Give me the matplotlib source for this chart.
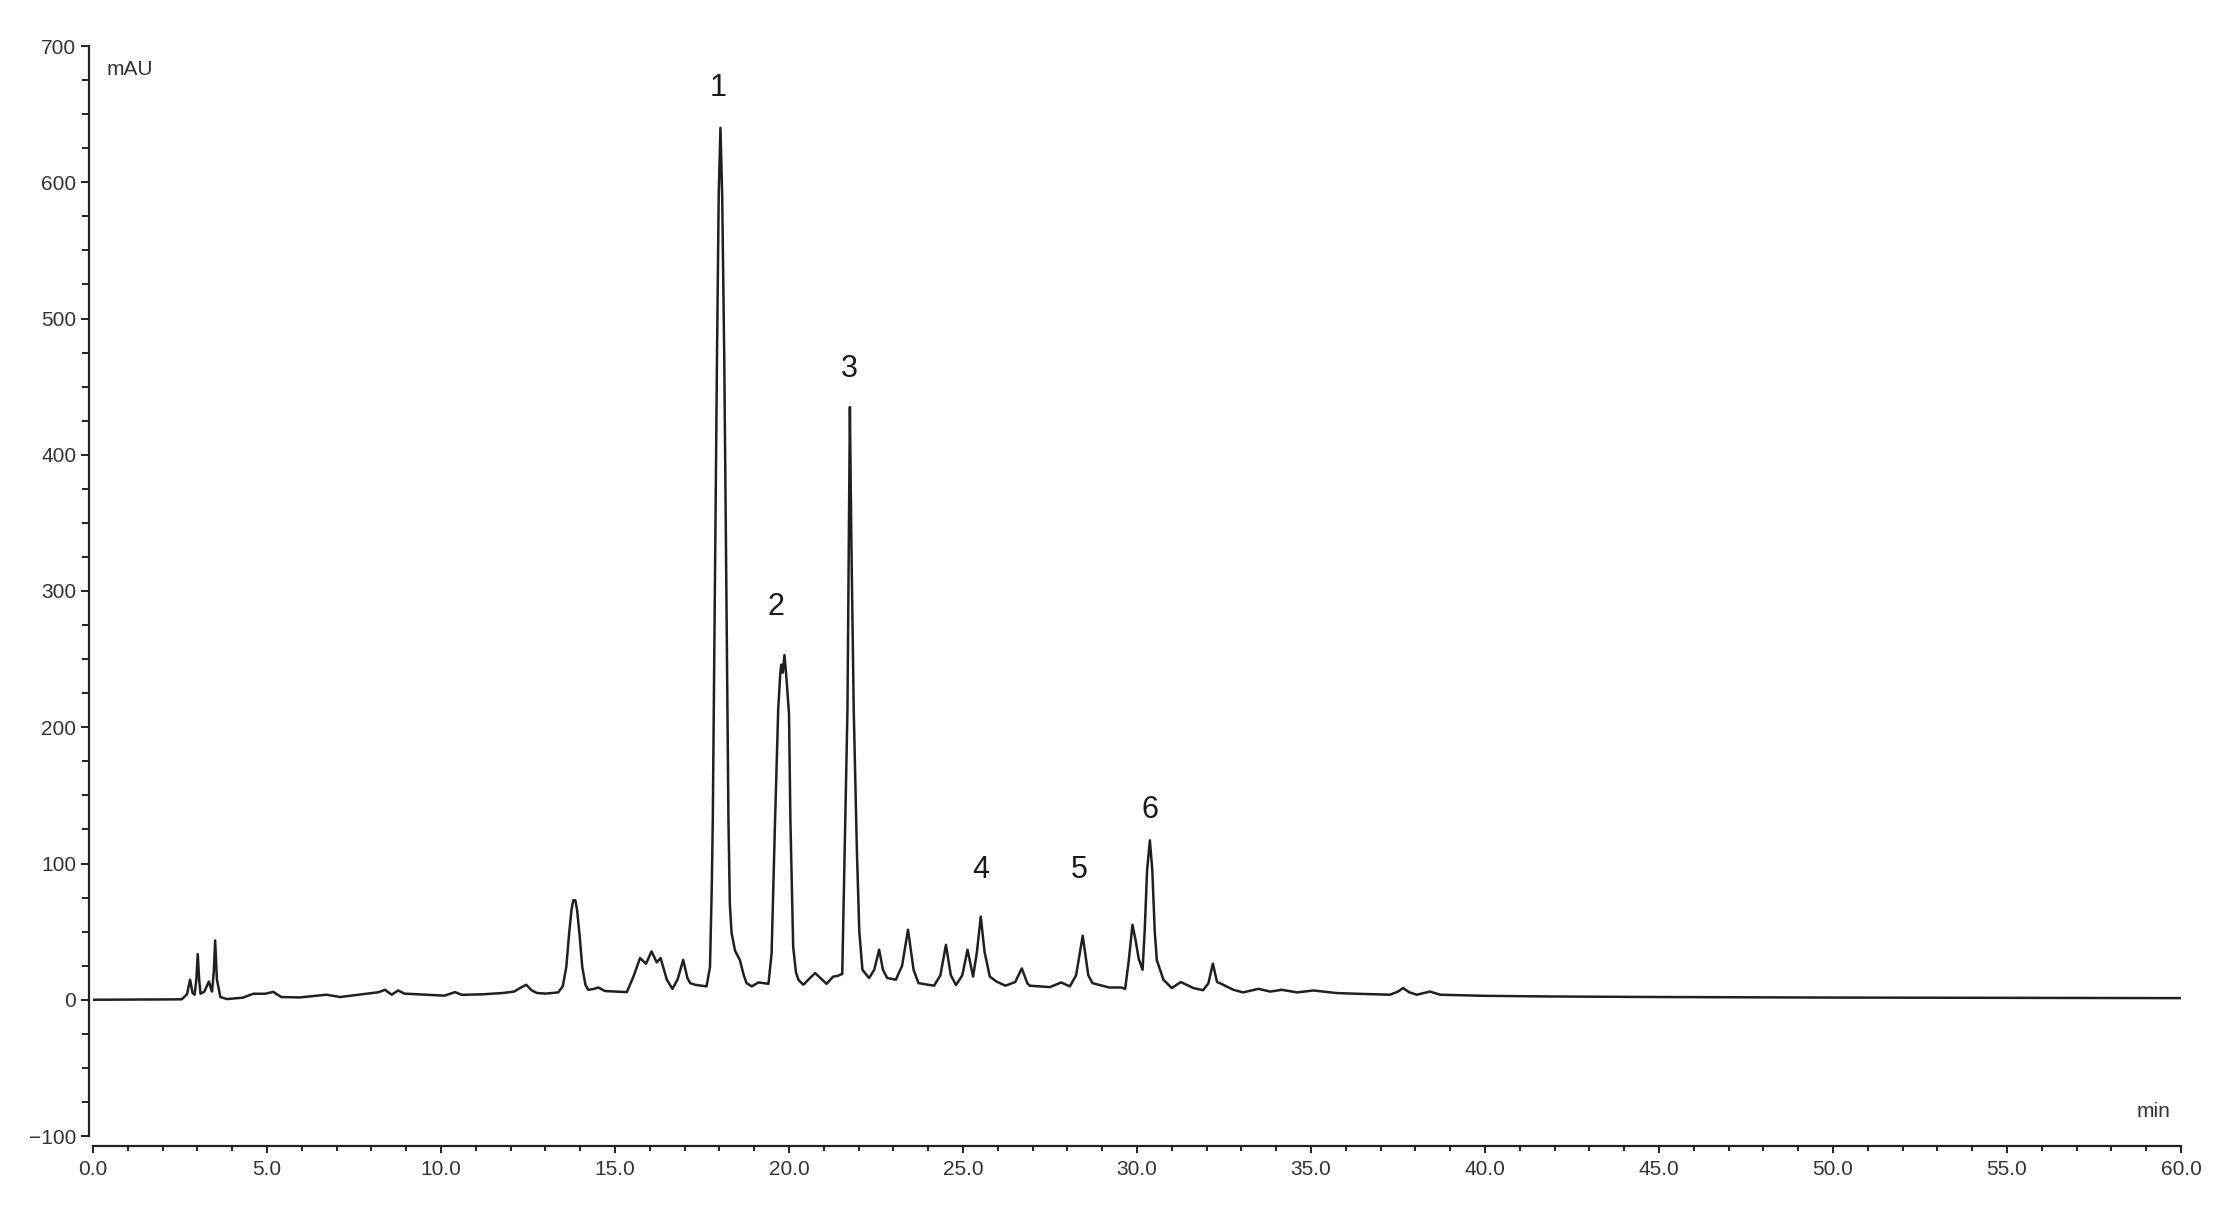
import numpy as np
import matplotlib
matplotlib.use("Agg")
import matplotlib.pyplot as plt
from matplotlib.ticker import MultipleLocator, FormatStrFormatter

plt.rcParams['font.family'] = ['Liberation Sans', 'DejaVu Sans']

# chromatogram trace (retention time in min, signal in mAU)
time_min = [
    0.00, 2.55, 2.70, 2.79, 2.86, 2.92, 2.97, 3.01, 3.05, 3.09, 3.20, 3.33, 3.38, 3.42,
    3.47, 3.51, 3.56, 3.66, 3.85, 4.30, 4.61, 4.95, 5.18, 5.41, 5.94, 6.71, 7.10, 7.86,
    8.20, 8.39, 8.58, 8.77, 8.95, 9.50, 10.10, 10.40, 10.60, 11.20, 11.80, 12.10, 12.30,
    12.45, 12.60, 12.75, 13.00, 13.37, 13.50, 13.60, 13.68, 13.75, 13.80, 13.86, 13.91,
    13.98, 14.06, 14.15, 14.23, 14.40, 14.52, 14.71, 15.34, 15.53, 15.72, 15.89, 16.05,
    16.20, 16.31, 16.49, 16.65, 16.80, 16.96, 17.08, 17.16, 17.30, 17.63, 17.73, 17.78,
    17.81, 17.87, 17.93, 17.98, 18.03, 18.08, 18.14, 18.20, 18.26, 18.30, 18.35, 18.45,
    18.59, 18.70, 18.78, 18.93, 19.12, 19.41, 19.50, 19.60, 19.69, 19.75, 19.78, 19.82,
    19.87, 19.93, 20.00, 20.04, 20.12, 20.20, 20.27, 20.41, 20.75, 21.08, 21.27, 21.40,
    21.53, 21.60, 21.68, 21.72, 21.75, 21.79, 21.86, 21.95, 22.02, 22.11, 22.30, 22.45,
    22.59, 22.70, 22.82, 23.07, 23.25, 23.42, 23.58, 23.72, 24.17, 24.35, 24.51, 24.65,
    24.80, 24.98, 25.13, 25.29, 25.40, 25.51, 25.62, 25.77, 25.96, 26.22, 26.50, 26.69,
    26.85, 26.92, 27.50, 27.82, 28.07, 28.25, 28.44, 28.60, 28.72, 29.20, 29.55, 29.66,
    29.76, 29.87, 29.95, 30.05, 30.16, 30.22, 30.29, 30.37, 30.44, 30.51, 30.57, 30.76,
    31.00, 31.26, 31.62, 31.90, 32.05, 32.18, 32.30, 32.38, 32.77, 33.05, 33.49, 33.83,
    34.16, 34.60, 35.07, 35.74, 36.31, 37.27, 37.50, 37.65, 37.82, 38.04, 38.42, 38.71,
    39.94, 41.87, 45.00, 50.00, 55.00, 60.00,
]
signal_mau = [
    0.0, 0.3, 4.0, 14.7, 5.0, 3.7, 15.0, 33.5, 15.0, 4.4, 6.0, 13.4, 9.0, 6.0,
    20.0, 43.5, 15.0, 2.0, 0.5, 1.5, 4.4, 4.4, 5.8, 2.0, 1.7, 3.7, 2.0, 4.4,
    5.5, 7.3, 3.7, 6.8, 4.5, 3.8, 3.0, 5.6, 3.6, 4.0, 5.0, 6.0, 9.0,
    11.0, 7.0, 5.0, 4.5, 5.4, 10.0, 24.0, 48.0, 66.0, 73.0, 73.0, 66.0,
    48.0, 24.0, 11.0, 7.3, 8.0, 9.0, 6.4, 5.6, 17.0, 30.6, 26.4, 35.5,
    27.4, 30.6, 14.7, 8.0, 15.0, 29.3, 16.0, 12.2, 11.0, 9.8, 24.0, 82.0,
    132.0, 300.0, 470.0, 590.0, 640.0, 590.0, 470.0, 300.0, 132.0, 70.0, 49.0, 36.0,
    29.0, 18.0, 12.2, 9.8, 12.7, 11.7, 34.0, 132.0, 213.0, 240.0, 246.0, 240.0,
    253.0, 235.0, 210.0, 132.0, 39.0, 20.0, 14.7, 11.0, 19.6, 11.7, 17.0, 17.5,
    19.0, 110.0, 213.0, 340.0, 435.0, 340.0, 213.0, 110.0, 50.0, 22.0, 15.9, 22.0,
    36.7, 22.0, 16.0, 14.7, 25.0, 51.4, 22.0, 12.2, 10.3, 18.0, 40.3, 18.0,
    10.8, 18.0, 36.7, 17.0, 35.0, 61.0, 35.0, 17.0, 13.4, 10.3, 13.0, 23.0,
    12.0, 10.3, 9.3, 12.7, 9.8, 18.0, 47.0, 18.0, 12.2, 9.0, 9.0, 8.0,
    28.0, 55.0, 45.0, 30.0, 22.0, 50.0, 95.0, 117.0, 95.0, 50.0, 29.0, 14.7,
    8.6, 13.0, 8.6, 7.0, 12.0, 26.5, 13.0, 12.2, 7.3, 5.4, 8.0, 6.0,
    7.3, 5.4, 6.8, 4.9, 4.4, 3.7, 6.0, 8.6, 5.5, 3.7, 6.0, 3.7,
    2.9, 2.4, 2.0, 1.6, 1.4, 1.2,
]

# numbered peak labels
peak_names = ['1', '2', '3', '4', '5', '6']
peak_label_t = [17.96, 19.63, 21.72, 25.52, 28.33, 30.37]
peak_label_v = [669, 288, 463, 95, 95, 139]

W, H = 2233, 1230
fig = plt.figure(figsize=(W / 100, H / 100), dpi=100)
ax = fig.add_axes([93 / W, (H - 1136) / H, (2181 - 93) / W, (1136 - 46) / H])

ax.plot(time_min, signal_mau, color='#202020', lw=1.8, solid_joinstyle='round')

ax.set_xlim(0, 60)
ax.set_ylim(-100, 700)

for s in ['top', 'right']:
    ax.spines[s].set_visible(False)
ax.spines['left'].set_position(('outward', 3))
ax.spines['bottom'].set_position(('outward', 7.2))
ax.spines['left'].set_bounds(-100, 700)
ax.spines['bottom'].set_bounds(0, 60)
for s in ['left', 'bottom']:
    ax.spines[s].set_linewidth(1.6)
    ax.spines[s].set_color('#222222')

ax.xaxis.set_major_locator(MultipleLocator(5))
ax.xaxis.set_minor_locator(MultipleLocator(1))
ax.xaxis.set_major_formatter(FormatStrFormatter('%.1f'))
ax.yaxis.set_major_locator(MultipleLocator(100))
ax.yaxis.set_minor_locator(MultipleLocator(25))

ax.tick_params(axis='both', which='both', direction='out', color='#222222',
               width=1.4, labelcolor='#333333', labelsize=15)
ax.tick_params(axis='y', which='major', length=6, pad=3)
ax.tick_params(axis='y', which='minor', length=5)
ax.tick_params(axis='x', which='major', length=5, pad=5)
ax.tick_params(axis='x', which='minor', length=3.5)

ax.text(0.4, 683, 'mAU', ha='left', va='center', fontsize=15, color='#333333')
ax.text(59.2, -82, 'min', ha='center', va='center', fontsize=15, color='#333333')

for name, t, v in zip(peak_names, peak_label_t, peak_label_v):
    ax.text(t, v, name, ha='center', va='center', fontsize=22, color='#1a1a1a')

fig.savefig('out.png', dpi=100, facecolor='white')
